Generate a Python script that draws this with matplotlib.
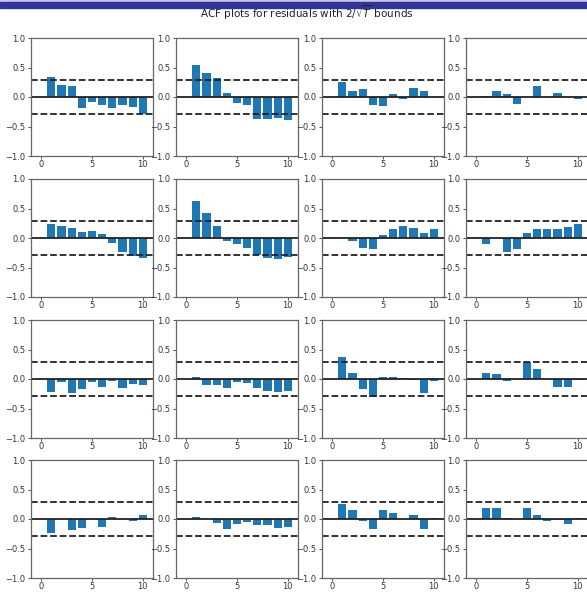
import matplotlib
matplotlib.use("Agg")
import matplotlib.pyplot as plt
import numpy as np

# sample autocorrelations of the residuals, lags 1..10, one list per series
LAGS = np.arange(1, 11)
ACF = [
    [0.34, 0.21, 0.18, -0.18, -0.08, -0.13, -0.18, -0.14, -0.17, -0.29],
    [0.55, 0.41, 0.33, 0.06, -0.11, -0.14, -0.37, -0.37, -0.35, -0.39],
    [0.26, 0.11, 0.13, -0.14, -0.15, 0.05, -0.03, 0.15, 0.11, 0.00],
    [0.01, 0.10, 0.05, -0.12, 0.00, 0.19, 0.00, 0.07, 0.00, -0.03],
    [0.24, 0.21, 0.175, 0.10, 0.12, 0.06, -0.085, -0.24, -0.30, -0.34],
    [0.63, 0.42, 0.20, -0.045, -0.11, -0.17, -0.28, -0.34, -0.36, -0.32],
    [0.005, -0.05, -0.17, -0.19, 0.045, 0.16, 0.21, 0.17, 0.085, 0.16],
    [-0.10, 0.00, -0.24, -0.19, 0.085, 0.16, 0.16, 0.16, 0.19, 0.23],
    [-0.22, -0.045, -0.23, -0.165, -0.045, -0.135, -0.035, -0.15, -0.09, -0.11],
    [0.04, -0.10, -0.11, -0.15, -0.045, -0.075, -0.15, -0.20, -0.22, -0.20],
    [0.38, 0.10, -0.175, -0.30, 0.04, 0.04, 0.025, -0.02, -0.245, -0.04],
    [0.10, 0.08, -0.03, 0.00, 0.28, 0.17, 0.00, -0.14, -0.14, -0.02],
    [-0.23, 0.00, -0.19, -0.16, 0.00, -0.13, 0.04, 0.00, -0.03, 0.06],
    [0.04, 0.00, -0.07, -0.17, -0.085, -0.057, -0.11, -0.10, -0.16, -0.14],
    [0.25, 0.15, -0.03, -0.165, 0.15, 0.10, 0.00, 0.06, -0.175, 0.02],
    [0.19, 0.18, 0.01, 0.005, 0.19, 0.06, -0.04, -0.025, -0.085, 0.02],
]
T = 50
BOUND = 2 / np.sqrt(T)

W, H = 587, 592
fig = plt.figure(figsize=(W / 100, H / 100), dpi=100)

# header strip
fig.patches.append(plt.Rectangle((0, 1 - 2 / H), 1, 2 / H, transform=fig.transFigure,
                                 color="#c8c8e6", zorder=0))
fig.patches.append(plt.Rectangle((0, 1 - 7.5 / H), 1, 5.5 / H, transform=fig.transFigure,
                                 color="#34349a", zorder=0))
fig.text(307 / W, 1 - 13 / H, r"ACF plots for residuals with $2/\sqrt{T}$ bounds",
         ha="center", va="center", fontsize=7.5, color="#222222")

col_left = [31, 176, 322, 466]
row_top = [38, 179, 320, 460]
aw, ah = 122, 118

for i, vals in enumerate(ACF):
    r, c = divmod(i, 4)
    ax = fig.add_axes([col_left[c] / W, 1 - (row_top[r] + ah) / H, aw / W, ah / H])
    ax.bar(LAGS, vals, width=0.8, color="#1f77b4")
    ax.axhline(0, color="#222222", lw=1.3)
    ax.axhline(BOUND, color="#222222", lw=1.3, ls="--")
    ax.axhline(-BOUND, color="#222222", lw=1.3, ls="--")
    ax.set_xlim(-1, 11)
    ax.set_ylim(-1, 1)
    ax.set_xticks([0, 5, 10])
    ax.set_yticks([-1.0, -0.5, 0.0, 0.5, 1.0])
    ax.tick_params(labelsize=6, length=2.5, width=0.7, pad=1.5,
                   colors="#555555", labelcolor="#333333")
    ax.tick_params(axis="x", pad=0.8, length=2.2)
    for s in ax.spines.values():
        s.set_color("#666666")
        s.set_linewidth(0.9)

fig.savefig("out.png", dpi=100)
